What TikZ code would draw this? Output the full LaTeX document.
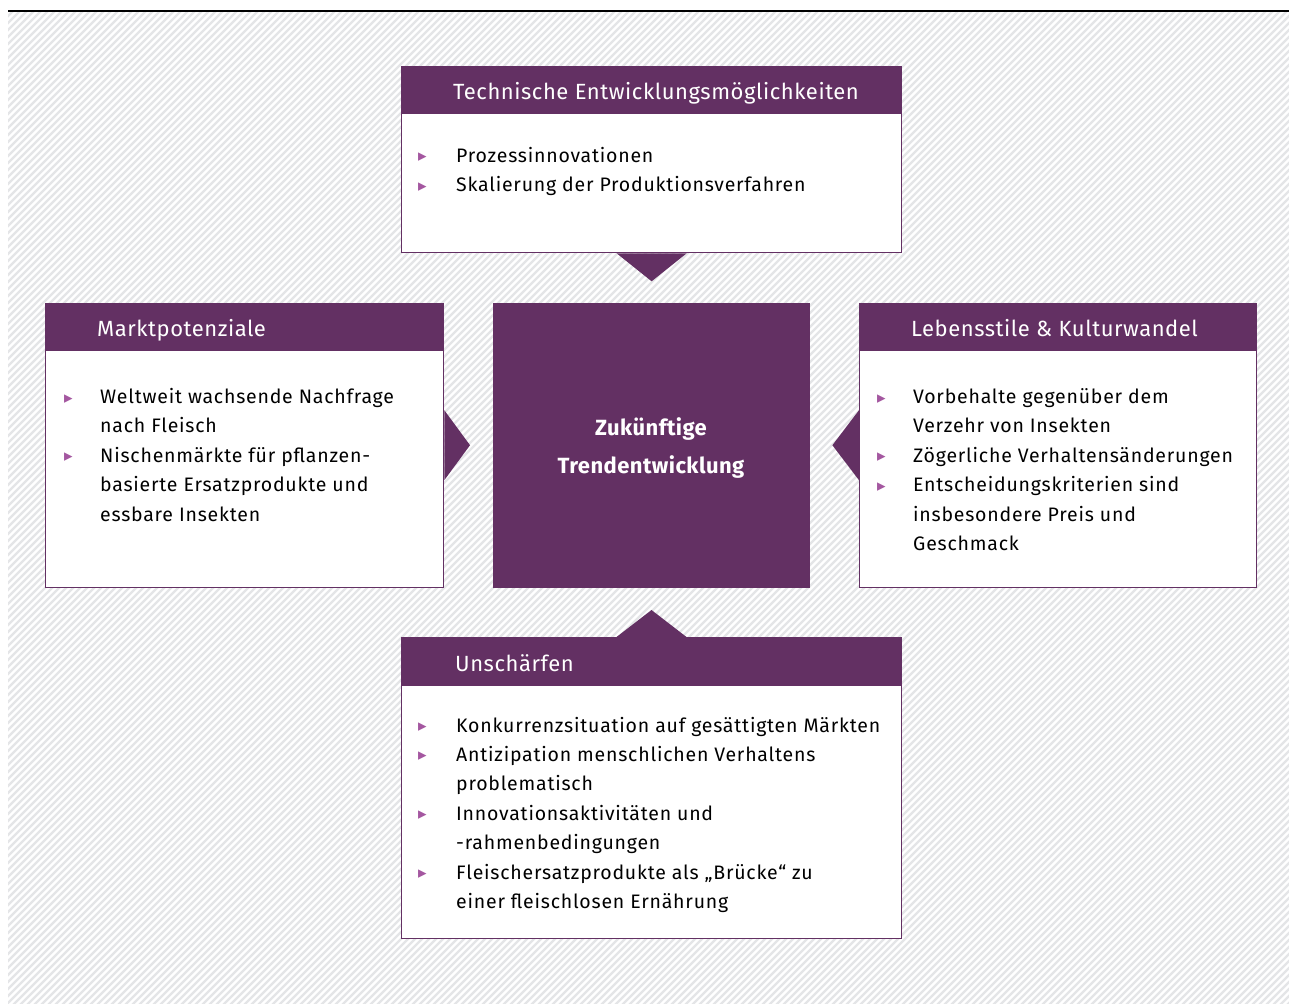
\documentclass[tikz,border=0pt]{standalone}
\usepackage{fontspec}
\setmainfont{Fira Sans}
\newfontfamily\symfont{DejaVu Sans}
\newfontfamily\bodyfont[LetterSpace=4]{Fira Sans}
\newfontfamily\hdrfont[LetterSpace=2.5]{Fira Sans}
\newfontfamily\ctrfont[LetterSpace=2]{Fira Sans}
\usetikzlibrary{calc}
\definecolor{purp}{HTML}{633063}
\definecolor{bulc}{HTML}{A457A0}
\definecolor{hatchc}{HTML}{E4E5E7}
\newcommand{\bul}{\raisebox{0.5pt}{\textcolor{bulc}{\symfont\fontsize{17}{17}\selectfont ▸}}}
\newcommand{\blist}[2]{\begin{tabular}[t]{@{}p{#1pt}@{}l@{}}#2\end{tabular}}
\tikzset{
  hdrbox/.style={fill=purp, draw=purp, line width=1pt, inner sep=0, anchor=north west},
  bodybox/.style={fill=white, draw=purp, line width=1.3pt, inner sep=0, anchor=north west},
  hdrtext/.style={text=white, font=\hdrfont\fontsize{22}{26}\selectfont, anchor=base west, inner sep=0},
  bodytext/.style={font=\bodyfont\fontsize{19.5}{29.4}\selectfont, anchor=base west, inner sep=0},
  arrowtri/.style={fill=purp},
}
\begin{document}
\begin{tikzpicture}[x=1pt,y=-1pt]
\useasboundingbox (0,0) rectangle (1289,1003);
% background hatch
\begin{scope}
\clip (8,12) rectangle (1289,1003);
\fill[white] (8,12) rectangle (1289,1003);
\foreach \i in {-1000,-993,...,1290} \draw[hatchc, line width=2.4pt] (\i,1010) -- ++(1010,-1010);
\end{scope}
\draw[line width=1.5pt] (8,11) -- (1289,11);

% top box
\node[bodybox, minimum width=500pt, minimum height=139pt] (topbody) at (401,113) {};
\node[hdrbox, minimum width=500pt, minimum height=47pt] (tophdr) at (401,66) {};
\node[hdrtext] (toptitle) at (453,99.5) {Technische Entwicklungsmöglichkeiten};
\node[bodytext] (toptext) at (418,162.5) {\blist{38}{\bul & Prozessinnovationen\\ \bul & Skalierung der Produktionsverfahren}};

% left box
\node[bodybox, minimum width=398pt, minimum height=237pt] (leftbody) at (45,350) {};
\node[hdrbox, minimum width=398pt, minimum height=47pt] (lefthdr) at (45,303) {};
\node[hdrtext] (lefttitle) at (97,336.5) {Marktpotenziale};
\node[bodytext] (lefttext) at (64,403.5) {\blist{36}{\bul & Weltweit wachsende Nachfrage\\ & nach Fleisch\\ \bul & Nischenmärkte für pflanzen-\\ & basierte Ersatzprodukte und\\ & essbare Insekten}};

% center box
\node[fill=purp, draw=purp, inner sep=0, anchor=north west, minimum width=316pt, minimum height=284pt] (center) at (493,303) {};
\node[text=white, font=\ctrfont\bfseries\fontsize{22}{37.7}\selectfont, align=center, anchor=base, inner sep=0] (centertext) at (651,473.5) {Zukünftige\\Trendentwicklung};

% right box
\node[bodybox, minimum width=397pt, minimum height=237pt] (rightbody) at (859,350) {};
\node[hdrbox, minimum width=397pt, minimum height=47pt] (righthdr) at (859,303) {};
\node[hdrtext] (righttitle) at (911,336.5) {Lebensstile \& Kulturwandel};
\node[bodytext] (righttext) at (877,403.5) {\blist{36}{\bul & Vorbehalte gegenüber dem\\ & Verzehr von Insekten\\ \bul & Zögerliche Verhaltensänderungen\\ \bul & Entscheidungskriterien sind\\ & insbesondere Preis und\\ & Geschmack}};

% bottom box
\node[bodybox, minimum width=500pt, minimum height=253pt] (botbody) at (401,685) {};
\node[hdrbox, minimum width=500pt, minimum height=48pt] (bothdr) at (401,637) {};
\node[hdrtext] (bottitle) at (455,671) {Unschärfen};
\node[bodytext] (bottext) at (418,732) {\blist{38}{\bul & Konkurrenzsituation auf gesättigten Märkten\\ \bul & Antizipation menschlichen Verhaltens\\ & problematisch\\ \bul & Innovationsaktivitäten und\\ & -rahmenbedingungen\\ \bul & Fleischersatzprodukte als „Brücke“ zu\\ & einer fleischlosen Ernährung}};

% connector triangles
\fill[arrowtri] ($(topbody.south)+(-35,0)$) -- ($(topbody.south)+(0,28)$) -- ($(topbody.south)+(35,0)$) -- cycle;
\fill[arrowtri] ($(bothdr.north)+(-35,0)$) -- ($(bothdr.north)+(0,-27)$) -- ($(bothdr.north)+(35,0)$) -- cycle;
\fill[arrowtri] ($(leftbody.east|-center.west)+(0,-35)$) -- ($(center.west)+(-23,0)$) -- ($(leftbody.east|-center.west)+(0,35)$) -- cycle;
\fill[arrowtri] ($(rightbody.west|-center.east)+(0,-35)$) -- ($(center.east)+(23,0)$) -- ($(rightbody.west|-center.east)+(0,35)$) -- cycle;
\end{tikzpicture}
\end{document}
